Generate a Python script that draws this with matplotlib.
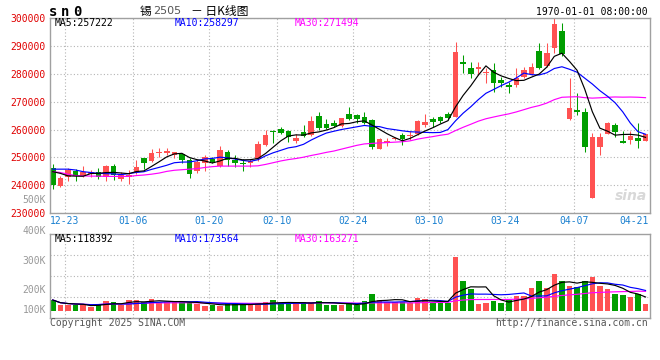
import matplotlib
matplotlib.use('Agg')
import matplotlib.pyplot as plt
import matplotlib.transforms as mtransforms
import numpy as np
import pandas as pd

# ---------------- data (yuan / ton, volume in lots) ----------------
opens = [246100, 239800, 243100, 245100, 243300, 244100, 244800, 242900, 246900, 242300,
         242900, 244900, 249800, 248800, 251700, 251700, 250900, 251200, 249100, 245200,
         248100, 249400, 246900, 252100, 249100, 248100, 248100, 249300, 254500, 259600,
         260100, 259500, 255900, 259100, 258100, 265000, 262000, 262500, 261300, 265600,
         265200, 264400, 263400, 253100, 255100, 256500, 258100, 257800, 258400, 261600,
         263900, 264400, 265600, 264600, 284400, 282200, 281700, 280400, 281400, 277800,
         275900, 276000, 279000, 279900, 288200, 282800, 289300, 295400, 263700, 266900,
         266200, 235600, 253900, 258400, 261600, 255900, 256300, 257100, 256000]
highs = [247700, 243300, 246100, 245800, 246900, 245500, 246100, 247400, 247500, 244700,
         245500, 249100, 249800, 253000, 253300, 253300, 252100, 251200, 249700, 249100,
         250900, 250100, 254100, 252700, 250900, 249300, 249300, 256000, 259900, 259900,
         261000, 259900, 258400, 261600, 264900, 266300, 263700, 263400, 264300, 268100,
         265600, 266400, 263700, 256900, 256900, 257200, 258700, 259600, 263400, 265600,
         264600, 264900, 266400, 291500, 286800, 284400, 284400, 282000, 283800, 279000,
         277200, 282000, 282600, 284000, 291000, 291000, 299900, 298400, 278400, 273000,
         267600, 258700, 258700, 262800, 262300, 259500, 259500, 262300, 258300]
lows = [238700, 239300, 241700, 241600, 242900, 243100, 242200, 241700, 241900, 241700,
        240500, 244100, 246000, 248500, 250300, 250900, 249700, 247900, 242700, 244300,
        245200, 247900, 246500, 246900, 246700, 245200, 246500, 248800, 254100, 255300,
        258400, 255700, 255100, 257400, 257700, 259900, 260100, 261000, 260800, 263400,
        262300, 262000, 252900, 252900, 254100, 256300, 254500, 256300, 258100, 260800,
        260800, 262500, 263400, 264400, 280200, 278600, 279600, 276800, 273600, 275400,
        273200, 275400, 278600, 279600, 281600, 282300, 287600, 286400, 263400, 265200,
        251900, 235600, 250900, 258400, 257400, 255100, 254700, 253500, 256000]
closes = [240100, 242500, 245500, 243300, 244900, 244900, 242900, 246900, 243700, 243700,
          243700, 246700, 248100, 251700, 252100, 252400, 252100, 249100, 244100, 248300,
          250100, 248500, 252700, 249100, 247900, 247500, 248800, 254800, 258100, 259200,
          258900, 257400, 256900, 257700, 263100, 260700, 260700, 261400, 264300, 263900,
          263800, 262300, 253900, 256500, 256000, 257000, 256500, 258100, 263100, 262800,
          262800, 263100, 264100, 287900, 283400, 279900, 282300, 280800, 276600, 276800,
          275200, 278400, 281400, 282300, 282200, 287600, 297900, 287000, 267600, 266200,
          253900, 257400, 257400, 262300, 259000, 255100, 257700, 256000, 258300]
volumes = [93000, 48000, 48000, 48000, 48000, 37000, 59000, 85000, 76000, 48000,
           93000, 93000, 76000, 101000, 70000, 76000, 76000, 76000, 76000, 59000,
           42000, 48000, 42000, 68000, 65000, 48000, 51000, 65000, 79000, 93000,
           65000, 59000, 59000, 76000, 76000, 85000, 54000, 54000, 50000, 65000,
           51000, 85000, 144000, 93000, 79000, 79000, 79000, 65000, 113000, 99000,
           65000, 65000, 65000, 459000, 250000, 183000, 59000, 68000, 88000, 70000,
           93000, 127000, 127000, 197000, 255000, 197000, 315000, 250000, 214000, 203000,
           254000, 290000, 211000, 186000, 140000, 135000, 118000, 140000, 60000]
# moving-average values before enough visible days exist
ma5_head = [244900, 244300, 243400, 243300]
ma10_head = [245800, 245800, 245800, 245500, 244900, 244600, 244300, 244200, 244100]
ma30_head = [244900, 244600, 244000, 243500, 243400, 243300, 243300, 243200, 243200, 243200,
             243200, 243500, 243700, 244000, 244400, 245000, 245400, 245600, 245800, 246000,
             246400, 246700, 246900, 246900, 246900, 246900, 246900, 247000, 247500]

date_labels = ['12-23', '01-06', '01-20', '02-10', '02-24', '03-10', '03-24', '04-07', '04-21']
date_index = [2, 11, 21, 30, 40, 50, 60, 69, 79]
price_ticks = [230000, 240000, 250000, 260000, 270000, 280000, 290000, 300000]
vol_axis_labels = ['500K', '400K', '300K', '200K', '100K']
main_ma_text = ['MA5:257222', 'MA10:258297', 'MA30:271494']
vol_ma_text = ['MA5:118392', 'MA10:173564', 'MA30:163271']

# ---------------- styling ----------------
MONO = 'DejaVu Sans Mono'
RED = '#ff5252'
GREEN = '#009e00'
MA_COLORS = ['#000000', '#0000ff', '#ff00ff']
FRAME = '#a0a0a0'
GRID = '#b4b4b4'
W, H = 660, 360

fig = plt.figure(figsize=(W / 100, H / 100), dpi=100)
fig.patch.set_facecolor('white')


def fx(px):
    return px / W


def fy(py):
    return 1 - py / H


ax = fig.add_axes([fx(50), fy(213.2), 600 / W, (213.2 - 18.1) / H])
vax = fig.add_axes([fx(50), fy(318), 600 / W, (318 - 234.3) / H])

o = np.array(opens, float)
c = np.array(closes, float)
hi = np.array(highs, float)
lo = np.array(lows, float)
v = np.array(volumes, float)
n = len(c)
idx = np.arange(n)
colors = np.where(c >= o, RED, GREEN)

xlim = (-0.36, 78.59)
grid_x = [d - 0.45 for d in date_index[:-1]]

# ---- price panel ----
ax.vlines(idx, lo, hi, colors=colors, lw=0.75, zorder=3)
ax.bar(idx, np.maximum(np.abs(c - o), 350), bottom=np.minimum(o, c), width=0.74,
       color=colors, linewidth=0, zorder=3)

cs = pd.Series(c)
ma5 = cs.rolling(5).mean().to_numpy()
ma5[:len(ma5_head)] = ma5_head
ma10 = cs.rolling(10).mean().to_numpy()
ma10[:len(ma10_head)] = ma10_head
ma30 = cs.rolling(30).mean().to_numpy()
ma30[:len(ma30_head)] = ma30_head
for series, col in ((ma30, MA_COLORS[2]), (ma10, MA_COLORS[1]), (ma5, MA_COLORS[0])):
    ax.plot(idx, series, color=col, lw=0.85, zorder=4)

ax.set_xlim(*xlim)
ax.set_ylim(230000, 300000)
ax.set_yticks(price_ticks)
ax.set_yticklabels([str(t) for t in price_ticks], fontfamily=MONO, fontsize=7, color='#e00000')
ax.set_xticks(grid_x)
ax.tick_params(axis='both', length=0, labelbottom=False, pad=3.5)
ax.grid(True, color=GRID, linestyle=(0, (1, 2)), lw=0.8, zorder=0)

# ---- volume panel ----
vax.bar(idx, v, width=0.74, color=colors, linewidth=0, zorder=3)
vs = pd.Series(v)
for win, col in ((30, MA_COLORS[2]), (10, MA_COLORS[1]), (5, MA_COLORS[0])):
    vax.plot(idx, vs.rolling(win, min_periods=1).mean(), color=col, lw=0.85, zorder=4)
vax.set_xlim(*xlim)
vlo, vhi = -59200, 648600
vax.set_ylim(vlo, vhi)
vax.set_xticks(grid_x)
vax.set_yticks([vlo + k * (vhi - vlo) / 4 for k in (1, 2, 3)])
vax.tick_params(axis='both', length=0, labelbottom=False, labelleft=False)
vax.grid(True, color=GRID, linestyle=(0, (1, 2)), lw=0.8, zorder=0)

for a in (ax, vax):
    a.set_facecolor('white')
    for s in a.spines.values():
        s.set_color(FRAME)
        s.set_linewidth(1.0)
        s.set_zorder(5)

# ---- date labels ----
trans = mtransforms.blended_transform_factory(ax.transData, ax.transAxes)
for lab, d in zip(date_labels, date_index):
    xpos = d - 0.45
    if xpos > xlim[1] - 1.5:
        ax.text(xlim[1] - 0.1, -0.0425, lab, transform=trans, ha='right', va='center',
                fontfamily=MONO, fontsize=7, color='#1a80d0')
    else:
        ax.text(xpos, -0.0425, lab, transform=trans, ha='center', va='center',
                fontfamily=MONO, fontsize=7, color='#1a80d0')

# ---- volume axis labels ----
for lab, py in zip(vol_axis_labels, [200, 231, 261, 290, 310]):
    fig.text(fx(46), fy(py), lab, ha='right', va='center', fontfamily=MONO, fontsize=7,
             color='#999999')

# ---- headers ----
for txt, px, col in zip(main_ma_text, [55, 175, 295], MA_COLORS):
    fig.text(fx(px), fy(23.5), txt, ha='left', va='center', fontfamily=MONO, fontsize=7, color=col)
for txt, px, col in zip(vol_ma_text, [55, 175, 295], MA_COLORS):
    fig.text(fx(px), fy(238.5), txt, ha='left', va='center', fontfamily=MONO, fontsize=7, color=col)

for ch, px in zip(['s', 'n', '0'], [52.7, 65.0, 77.0]):
    fig.text(fx(px), fy(11.5), ch, ha='center', va='center', fontfamily=MONO,
             fontweight='bold', fontsize=10, color='black')
fig.text(fx(140), fy(11), '锡', ha='left', va='center',
         family=['Noto Sans CJK SC', 'DejaVu Sans'], fontsize=8.5, color='black')
fig.text(fx(153), fy(11.5), '2505', ha='left', va='center', fontfamily='DejaVu Sans',
         fontsize=8, color='#555555')
fig.text(fx(248), fy(11), '－ 日K线图', ha='right', va='center',
         family=['Noto Sans CJK SC', 'DejaVu Sans'], fontsize=8.5, color='black')
fig.text(fx(648), fy(12), '1970-01-01 08:00:00', ha='right', va='center', fontfamily=MONO,
         fontsize=7, color='black')

fig.text(fx(50), fy(323.5), 'Copyright 2025 SINA.COM', ha='left', va='center', fontfamily=MONO,
         fontsize=7, color='#555555')
fig.text(fx(648), fy(323.5), 'http://finance.sina.com.cn', ha='right', va='center',
         fontfamily=MONO, fontsize=7, color='#555555')

# watermark
fig.text(fx(647), fy(196), 'sina', ha='right', va='center', fontfamily='DejaVu Sans',
         fontstyle='italic', fontweight='bold', fontsize=10, color='#d8d8d8', zorder=1)

fig.savefig('out.png', dpi=100, facecolor='white')
